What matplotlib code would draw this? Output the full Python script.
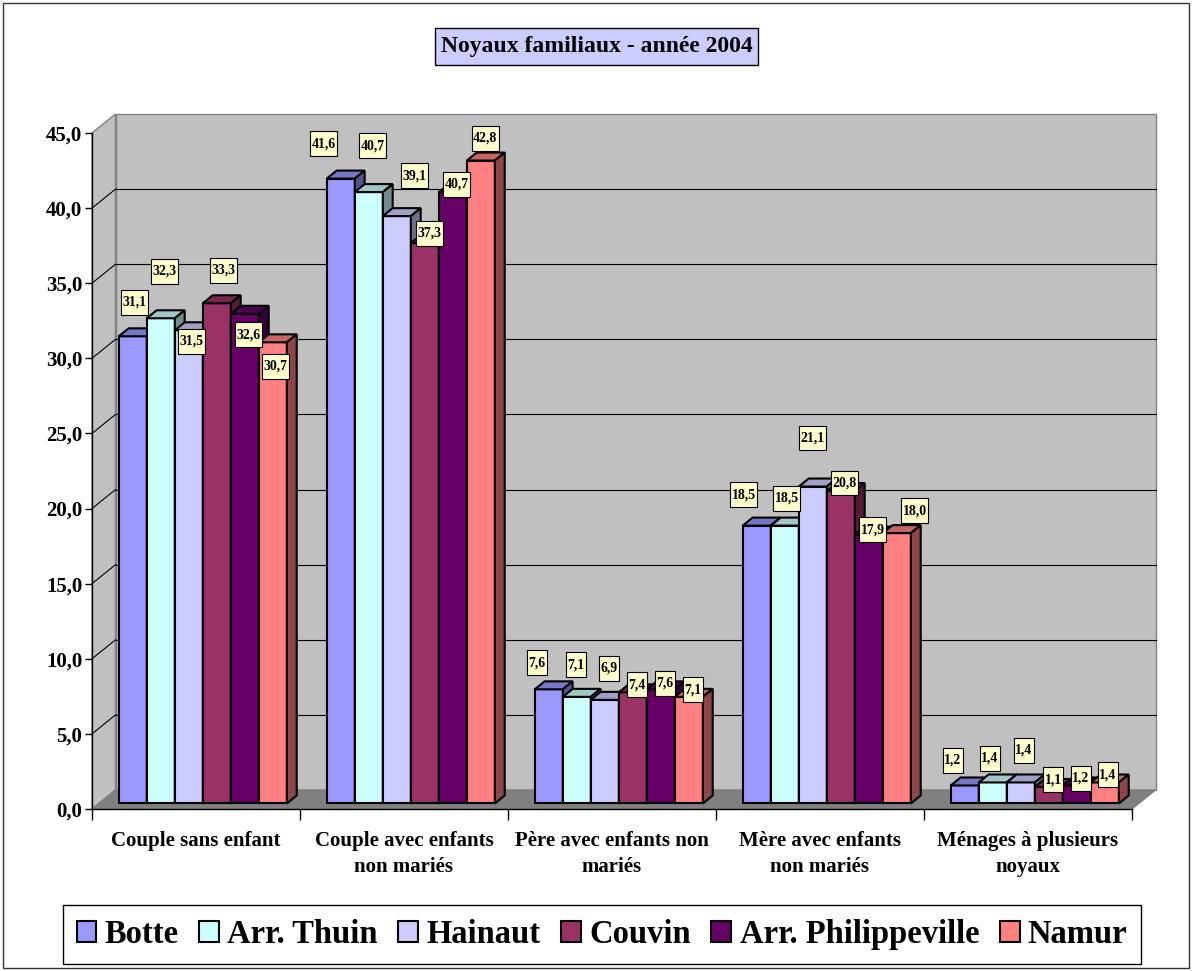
import matplotlib
matplotlib.use("Agg")
import matplotlib.pyplot as plt
from matplotlib.patches import Polygon, Rectangle, Patch
from matplotlib.path import Path
import numpy as np

# ---------------- data ----------------
categories = ["Couple sans enfant", "Couple avec enfants\nnon mariés",
              "Père avec enfants non\nmariés", "Mère avec enfants\nnon mariés",
              "Ménages à plusieurs\nnoyaux"]
series_names = ["Botte", "Arr. Thuin", "Hainaut", "Couvin", "Arr. Philippeville", "Namur"]
botte = [31.1, 41.6, 7.6, 18.5, 1.2]
arr_thuin = [32.3, 40.7, 7.1, 18.5, 1.4]
hainaut = [31.5, 39.1, 6.9, 21.1, 1.4]
couvin = [33.3, 37.3, 7.4, 20.8, 1.1]
arr_philippeville = [32.6, 40.7, 7.6, 17.9, 1.2]
namur = [30.7, 42.8, 7.1, 18.0, 1.4]
values = [botte, arr_thuin, hainaut, couvin, arr_philippeville, namur]
y_ticks = np.arange(0, 46, 5)

# ---------------- style / layout ----------------
colors = ["#9999FF", "#CCFFFF", "#CCCCFF", "#993366", "#660066", "#FF8080"]
# data-label offsets in pixels (dx right, dy down) relative to bar top, [category][series]
label_offsets = [
    [(2, -34), (4, -47), (2.5, 11), (7, -33), (3.5, 21), (3, 24)],
    [(-17, -35), (4, -46.5), (18, -40.5), (4.4, -10), (3.5, -8), (4.5, -22.5)],
    [(-12, -26.5), (-1, -32), (4, -31.5), (4, -7.5), (4, -6), (4, -7)],
    [(-13, -31), (2, -27.5), (0, -48.5), (4, -8), (4, -5), (18, -22.5)],
    [(-12, -25), (-3, -24), (3, -32), (4.5, -7), (4, -7), (3, -7.5)],
]
FONT = "Liberation Serif"


class PadBox:
    """Rectangular box with separate horizontal / vertical padding."""

    def __init__(self, padx, pady):
        self.padx, self.pady = padx, pady

    def __call__(self, x0, y0, width, height, mutation_size):
        px, py = self.padx * mutation_size, self.pady * mutation_size
        x0, y0 = x0 - px, y0 - py
        x1, y1 = x0 + width + 2 * px, y0 + height + 2 * py
        return Path([(x0, y0), (x1, y0), (x1, y1), (x0, y1), (x0, y0)], closed=True)


W, H = 1192, 971
fig = plt.figure(figsize=(W / 100, H / 100), dpi=100)
fig.patch.set_facecolor("white")

X0, X1, Y0, Y1 = 92, 1132, 809, 133
ax = fig.add_axes([X0 / W, (H - Y0) / H, (X1 - X0) / W, (Y0 - Y1) / H])
ax.set_xlim(0, 5)
ax.set_ylim(0, 45)
ax.set_facecolor("none")
ux = 5 / (X1 - X0)
uy = 45 / (Y0 - Y1)
DX, DY = 23.5 * ux, 19 * uy
f0, f1 = 0.29, 0.71

# walls
ax.add_patch(Rectangle((DX, DY), 5, 45, fc="#C0C0C0", ec="#808080", lw=1,
                       zorder=0.5, clip_on=False))
ax.add_patch(Polygon([(0, 0), (DX, DY), (DX, 45 + DY), (0, 45)], closed=True,
                     fc="#C0C0C0", ec="#808080", lw=1, zorder=0.5, clip_on=False))
for t in y_ticks[1:-1]:
    ax.plot([DX, 5 + DX], [t + DY, t + DY], color="black", lw=0.8, zorder=0.6, clip_on=False)
    ax.plot([0, DX], [t, t + DY], color="black", lw=0.8, zorder=0.6, clip_on=False)
ax.add_patch(Polygon([(0, 0), (DX, DY), (5 + DX, DY), (5, 0)], closed=True,
                     fc="#808080", ec="#808080", lw=1, zorder=0.7, clip_on=False))


def shade(c, f):
    r, g, b = matplotlib.colors.to_rgb(c)
    return (r * f, g * f, b * f)


group_w = 0.808
bw = group_w / 6
ddx, ddy = (f1 - f0) * DX, (f1 - f0) * DY
base = f0 * DY
for i, (vals, col) in enumerate(zip(values, colors)):
    z = 2 + i * 0.1
    xs = np.arange(5) + 0.5 - group_w / 2 + i * bw + f0 * DX
    ax.bar(xs, vals, width=bw, bottom=base, align="edge", color=col,
           edgecolor="black", lw=1.5, zorder=z, clip_on=False)
    for x, v in zip(xs, vals):
        top = base + v
        ax.add_patch(Polygon([(x, top), (x + bw, top), (x + bw + ddx, top + ddy),
                              (x + ddx, top + ddy)], closed=True, fc=shade(col, 0.78),
                             ec="black", lw=1.5, zorder=z, clip_on=False))
        ax.add_patch(Polygon([(x + bw, base), (x + bw + ddx, base + ddy),
                              (x + bw + ddx, top + ddy), (x + bw, top)], closed=True,
                             fc=shade(col, 0.55), ec="black", lw=1.5, zorder=z, clip_on=False))

# data labels
for i, vals in enumerate(values):
    xs = np.arange(5) + 0.5 - group_w / 2 + i * bw + f0 * DX
    for g, (x, v) in enumerate(zip(xs, vals)):
        dx, dy = label_offsets[g][i]
        ax.annotate(f"{v:.1f}".replace(".", ","), xy=(x + bw / 2, base + v),
                    xytext=(dx * 0.72, -dy * 0.72), textcoords="offset points",
                    ha="center", va="center", fontsize=10, fontweight="bold",
                    family=FONT, zorder=20, annotation_clip=False,
                    bbox=dict(boxstyle=PadBox(0.1, 0.43), fc="#FFFFCC", ec="black", lw=0.8))

# axes
for s in ["top", "right"]:
    ax.spines[s].set_visible(False)
for s in ["left", "bottom"]:
    ax.spines[s].set_color("black")
    ax.spines[s].set_linewidth(1)
ax.set_yticks(y_ticks)
ax.set_yticklabels([f"{t:.1f}".replace(".", ",") for t in y_ticks],
                   fontsize=15, fontweight="bold", family=FONT)
ax.tick_params(axis="y", direction="out", length=5, width=1, pad=2)
ax.set_xticks(np.arange(6))
ax.set_xticklabels([])
ax.tick_params(axis="x", which="major", direction="out", length=8, width=1)
ax.set_xticks(np.arange(5) + 0.5, minor=True)
ax.set_xticklabels(categories, minor=True, fontsize=15, fontweight="bold",
                   family=FONT, linespacing=1.4)
ax.tick_params(axis="x", which="minor", length=0, pad=16)

# title
fig.text(596.5 / W, 1 - 46.5 / H, "Noyaux familiaux - année 2004", ha="center",
         va="center", fontsize=17, fontweight="bold", family=FONT,
         bbox=dict(boxstyle=PadBox(0.22, 0.35), fc="#CCCCFF", ec="black", lw=1))

# legend
handles = [Patch(fc=c, ec="black", lw=1.5) for c in colors]
leg = fig.legend(handles, series_names, loc="center", bbox_to_anchor=(602 / W, 1 - 934.5 / H),
                 ncol=6, frameon=True, fancybox=False, edgecolor="black", framealpha=1,
                 prop=dict(family=FONT, weight="bold", size=23.5), handlelength=0.61,
                 handleheight=0.61, handletextpad=0.25, columnspacing=0.63, borderpad=0.42)
leg.get_frame().set_linewidth(1)

# outer border
fig.patches.append(Rectangle((3 / W, 3 / H), 1186 / W, 965 / H, transform=fig.transFigure,
                             fill=False, ec="#333333", lw=1))

fig.savefig("out.png", dpi=100)
